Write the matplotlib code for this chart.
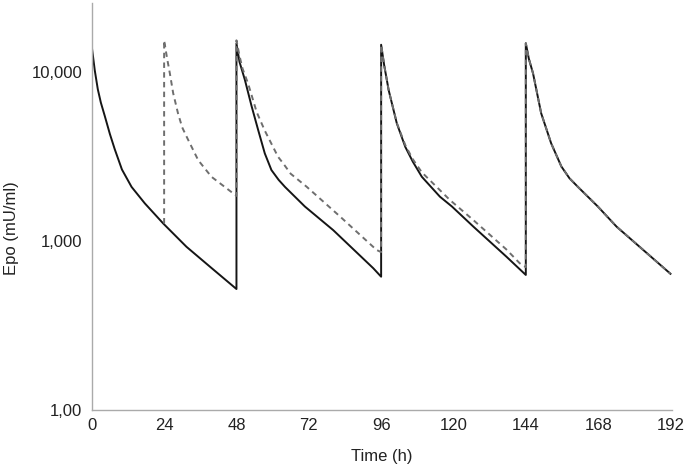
import numpy as np
import matplotlib
matplotlib.use('Agg')
import matplotlib.pyplot as plt

plt.rcParams['font.family'] = ['Liberation Sans', 'DejaVu Sans']

# solid curve (time in h, Epo in mU/ml)
solid_t = [0, 1, 2, 3, 4.3, 6, 7.6, 10, 13.2, 17.6, 23.7, 31.4, 39.2, 48,
           48, 49, 50.8, 53, 55.2, 57.4, 59.6, 62, 64.1, 70.7, 80.1, 93.4, 96,
           96, 97, 98.5, 101.2, 104, 106.5, 109.5, 115.5, 119.5, 126.6, 137.6, 144,
           144, 145, 146.4, 149.1, 152.4, 155.8, 158.5, 161.3, 167.9, 174.1, 192]
solid_v = [14100, 10200, 7900, 6600, 5500, 4300, 3500, 2650, 2090, 1670, 1270, 925, 705, 520,
           14800, 11500, 8980, 6300, 4540, 3300, 2630, 2300, 2090, 1600, 1160, 690, 615,
           14500, 11000, 7810, 4970, 3610, 2950, 2400, 1830, 1600, 1217, 807, 630,
           14800, 12000, 9820, 5700, 3790, 2760, 2350, 2090, 1600, 1217, 640]

# dashed curve
dash_t = [24, 24, 25, 25.9, 27, 28.6, 30, 32, 35.3, 39.7, 48,
          48, 49, 50, 51.9, 54.7, 57.4, 61.8, 63.5, 66, 71.3, 82.3, 94.5, 96,
          96, 97, 98.5, 101.2, 104, 106.5, 109.5, 118.8, 126.6, 137.6, 142, 144,
          144, 145, 146.4, 149.1, 152.4, 155.8, 158.5, 161.3, 167.9, 174.1, 192]
dash_v = [1270, 15400, 12000, 9820, 7500, 5700, 4700, 3960, 3010, 2400, 1850,
          15400, 12500, 10500, 8500, 5800, 4500, 3150, 2880, 2500, 2094, 1400, 885, 860,
          14500, 11000, 7810, 5000, 3700, 3050, 2550, 1750, 1330, 890, 738, 700,
          14800, 12000, 9820, 5700, 3790, 2760, 2350, 2090, 1600, 1217, 640]

xticks = [0, 24, 48, 72, 96, 120, 144, 168, 192]
yticks = [100, 1000, 10000]
ytick_labels = ['1,00', '1,000', '10,000']

fig = plt.figure(figsize=(6.85, 4.67), dpi=100)
ax = fig.add_axes([0.134, 0.122, 0.847, 0.8715])

ax.plot(solid_t, solid_v, color='#151515', lw=1.4, zorder=2)
ax.plot(dash_t, dash_v, color='#6e6e6e', lw=1.4, dashes=(2.8, 2.2), zorder=3)

ax.set_yscale('log')
ax.set_xlim(0, 192.5)
ax.set_ylim(100, 25600)
ax.set_xticks(xticks)
ax.set_xticklabels([str(t) for t in xticks])
ax.set_yticks(yticks)
ax.set_yticklabels(ytick_labels)
ax.minorticks_off()
ax.tick_params(axis='both', length=0, labelsize=12, colors='#222222')
ax.tick_params(axis='x', pad=6)
ax.tick_params(axis='y', pad=7)

for s in ['top', 'right']:
    ax.spines[s].set_visible(False)
for s in ['left', 'bottom']:
    ax.spines[s].set_color('#aaaaaa')
    ax.spines[s].set_linewidth(1.0)

ax.set_xlabel('Time (h)', fontsize=12, color='#222222')
ax.set_ylabel('Epo (mU/ml)', fontsize=12, color='#222222')
ax.xaxis.set_label_coords(0.5, -0.095)
ax.yaxis.set_label_coords(-0.125, 0.447)

fig.savefig('out.png', dpi=100)
